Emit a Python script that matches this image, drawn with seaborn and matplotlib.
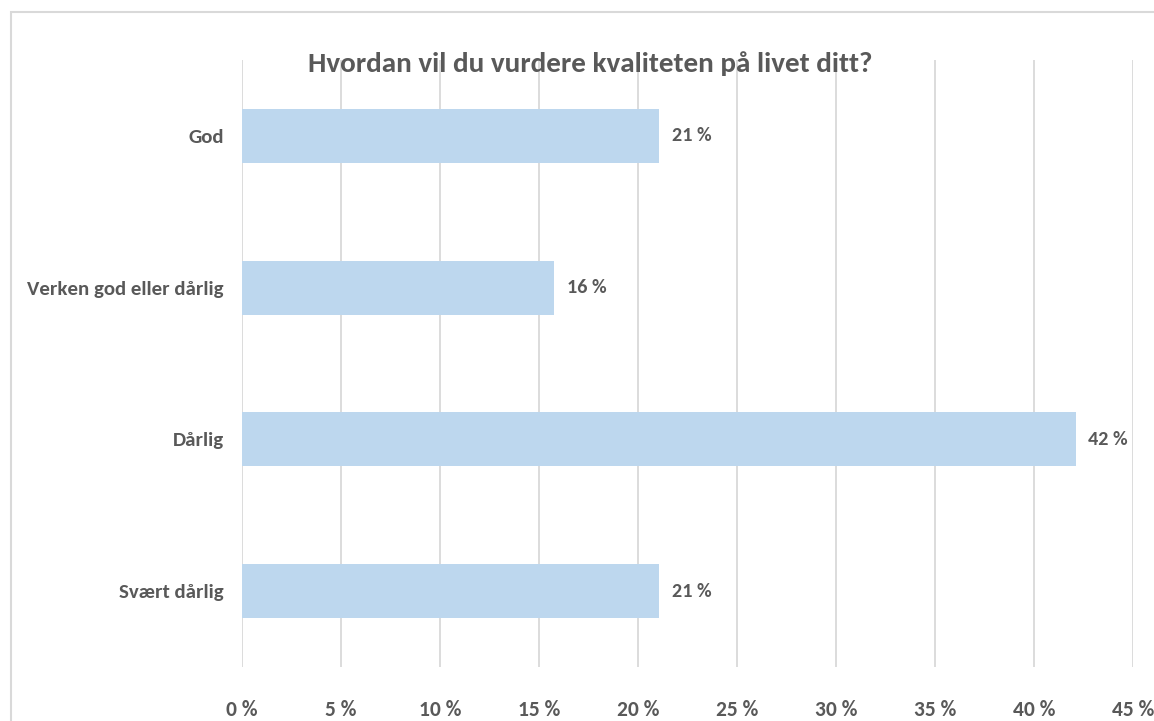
import matplotlib
matplotlib.use("Agg")
import matplotlib.pyplot as plt
import seaborn as sns
import pandas as pd
from matplotlib.patches import Rectangle

categories = ["God", "Verken god eller dårlig", "Dårlig", "Svært dårlig"]
values = [21.05, 15.75, 42.1, 21.05]
value_labels = ["21 %", "16 %", "42 %", "21 %"]
tick_values = [0, 5, 10, 15, 20, 25, 30, 35, 40, 45]
tick_labels = ["0 %", "5 %", "10 %", "15 %", "20 %", "25 %", "30 %", "35 %", "40 %", "45 %"]
title = "Hvordan vil du vurdere kvaliteten på livet ditt?"

sns.set_theme(style="white")
plt.rcParams['font.family'] = ['Carlito', 'Roboto Condensed', 'Open Sans Condensed', 'DejaVu Sans']

TEXT = "#595959"
GRID = "#D9D9D9"
BAR = "#BDD7EE"

W, H = 1154, 721
fig = plt.figure(figsize=(W / 100, H / 100), dpi=100)
ax = fig.add_axes([242 / W, 1 - 667 / H, (1133 - 242) / W, (667 - 60) / H])

df = pd.DataFrame({"cat": categories, "val": values})
sns.barplot(data=df, x="val", y="cat", color=BAR, width=0.355, ax=ax,
            saturation=1, edgecolor="none", zorder=3)

ax.set_xlim(0, 45)
ax.set_ylim(3.5, -0.5)
ax.set_xticks(tick_values)
ax.set_xticklabels(tick_labels)
ax.xaxis.grid(True, color=GRID, linewidth=1.3, zorder=0)
ax.set_axisbelow(True)
for s in ax.spines.values():
    s.set_visible(False)
ax.set_xlabel("")
ax.set_ylabel("")
ax.tick_params(axis="x", length=0, pad=24, labelsize=15.5, labelcolor=TEXT)
ax.tick_params(axis="y", length=0, pad=13, labelsize=15, labelcolor=TEXT)
for lab in ax.get_xticklabels() + ax.get_yticklabels():
    lab.set_fontweight("bold")

for i, (v, t) in enumerate(zip(values, value_labels)):
    ax.text(v + 0.65, i, t, va="center", ha="left", fontsize=14.5,
            fontweight="bold", color=TEXT)

fig.text(590 / W, 1 - 64 / H, title, ha="center", va="center", fontsize=21,
         fontweight="bold", color=TEXT)

# outer chart border (partly cropped)
fig.patches.append(Rectangle((11 / W, -0.1), 1.2, 1 - 12 / H + 0.1,
                             transform=fig.transFigure, fill=False,
                             edgecolor=GRID, linewidth=1.5))

fig.savefig("out.png", dpi=100)
